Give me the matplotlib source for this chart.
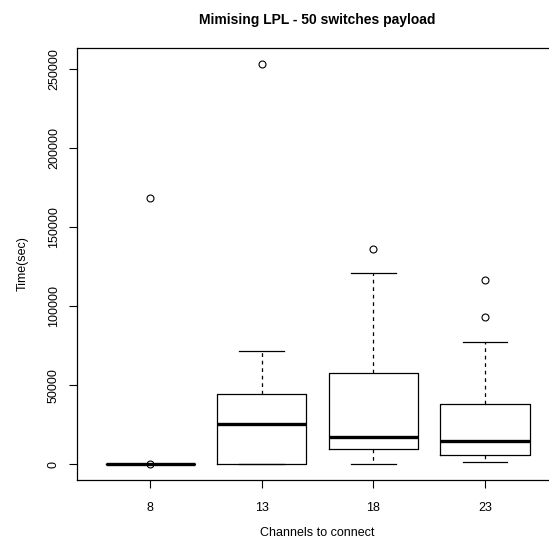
import matplotlib

matplotlib.use("Agg")

import matplotlib.pyplot as plt

plt.rcParams["font.family"] = ["Liberation Sans", "DejaVu Sans"]

# channels to connect and the box statistics (seconds)
channels = ["8", "13", "18", "23"]
whisker_low = [0, 0, 0, 1500]
q1 = [0, 0, 9500, 5500]
median = [0, 25300, 17100, 14600]
q3 = [0, 44500, 57800, 37800]
whisker_high = [0, 71600, 121200, 77100]
outliers = [[168300, 150], [253400], [136000], [116500, 92900]]

y_ticks = [0, 50000, 100000, 150000, 200000, 250000]

stats = []
for i, name in enumerate(channels):
    stats.append(
        {
            "label": name,
            "whislo": whisker_low[i],
            "q1": q1[i],
            "med": median[i],
            "q3": q3[i],
            "whishi": whisker_high[i],
            "fliers": outliers[i],
        }
    )

fig = plt.figure(figsize=(5.49, 5.5), dpi=100)
# plot region runs past the right edge of the picture, as in the original
ax = fig.add_axes([76.5 / 549, 70 / 550, 482.2 / 549, 432 / 550])

ax.bxp(
    stats,
    positions=range(1, len(channels) + 1),
    widths=0.8,
    showfliers=True,
    boxprops={"color": "black", "linewidth": 0.9},
    medianprops={"color": "black", "linewidth": 2.4, "solid_capstyle": "butt"},
    whiskerprops={"color": "black", "linewidth": 0.9, "linestyle": (0, (3, 3))},
    capprops={"color": "black", "linewidth": 0.9},
    flierprops={
        "marker": "o",
        "markersize": 5,
        "markerfacecolor": "none",
        "markeredgecolor": "black",
        "markeredgewidth": 0.8,
    },
)

ymax = 253400
pad = ymax * 0.04
ax.set_ylim(-pad, ymax + pad)
ax.set_xlim(0.5 - 0.16, 4.5 + 0.16)

ax.set_yticks(y_ticks)
ax.set_yticklabels([str(v) for v in y_ticks], rotation=90, va="center")
ax.set_xticks(range(1, len(channels) + 1))
ax.set_xticklabels(channels)

ax.tick_params(axis="both", labelsize=9, length=6, width=0.8, color="black")
ax.tick_params(axis="y", pad=6)
ax.tick_params(axis="x", pad=9.5)
for spine in ax.spines.values():
    spine.set_linewidth(0.9)

ax.set_xlabel("Channels to connect", fontsize=9, labelpad=10)
ax.set_ylabel("Time(sec)", fontsize=9, labelpad=14)
fig.text(317 / 549, 1 - 20 / 550, "Mimising LPL - 50 switches payload",
         ha="center", va="center", fontsize=10, fontweight="bold")

fig.savefig("out.png", dpi=100)
plt.close(fig)
